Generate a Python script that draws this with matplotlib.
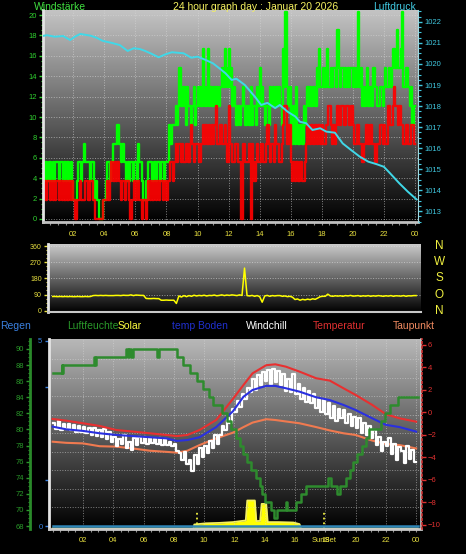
import numpy as np
import matplotlib
matplotlib.use('Agg')
import matplotlib.pyplot as plt
from matplotlib.colors import LinearSegmentedColormap
from matplotlib.ticker import MultipleLocator

plt.rcParams['font.family'] = ['Liberation Sans', 'DejaVu Sans']

# ---------------- data ----------------
# wind, 5 minute values, anemometer steps of 1.85 km/h (level numbers), one row per hour
gust_lv = [3, 2, 3, 3, 2, 3, 3, 2, 3, 2, 3, 3,
           3, 2, 3, 3, 2, 3, 2, 3, 3, 2, 3, 2,
           1, 1, 1, 2, 3, 3, 2, 3, 4, 3, 3, 3,
           3, 2, 3, 3, 1, 2, 1, 1, 0, 0, 0, 1,
           1, 2, 3, 3, 2, 3, 3, 4, 4, 4, 5, 4,
           4, 3, 4, 3, 3, 2, 3, 2, 3, 3, 2, 3,
           3, 2, 4, 3, 3, 2, 1, 1, 2, 1, 3, 3,
           3, 2, 3, 3, 2, 3, 3, 2, 3, 3, 2, 3,
           3, 3, 5, 4, 5, 5, 5, 6, 5, 6, 8, 6,
           6, 7, 6, 5, 7, 6, 6, 5, 6, 7, 5, 6,
           7, 6, 7, 6, 9, 7, 6, 7, 9, 6, 7, 6,
           6, 7, 6, 7, 6, 7, 7, 8, 7, 9, 8, 7,
           9, 7, 8, 6, 7, 6, 5, 6, 6, 5, 6, 7,
           6, 5, 6, 6, 5, 7, 5, 6, 6, 5, 7, 6,
           8, 6, 7, 6, 5, 6, 6, 5, 7, 6, 7, 6,
           6, 7, 6, 7, 6, 5, 9, 7, 11, 7, 6, 7,
           5, 4, 6, 4, 7, 5, 4, 5, 5, 4, 6, 5,
           6, 7, 6, 7, 6, 7, 7, 6, 8, 7, 9, 7,
           7, 8, 7, 8, 9, 7, 7, 8, 7, 8, 8, 7,
           10, 8, 7, 8, 8, 7, 8, 7, 8, 7, 8, 8,
           7, 8, 7, 8, 11, 7, 8, 6, 7, 6, 7, 8,
           6, 7, 7, 6, 8, 7, 7, 6, 6, 7, 7, 6,
           7, 8, 7, 7, 8, 7, 8, 9, 9, 8, 10, 8,
           8, 9, 11, 7, 7, 8, 8, 7, 6, 7, 5, 6]
mean_lv = [2, 1, 2, 1, 2, 2, 1, 2, 1, 2, 1, 2,
           2, 1, 2, 1, 2, 1, 2, 1, 1, 2, 1, 2,
           1, 0, 0, 1, 1, 2, 1, 1, 1, 2, 2, 1,
           1, 2, 2, 1, 1, 0, 0, 0, 0, 0, 0, 1,
           1, 1, 2, 1, 2, 3, 3, 2, 3, 2, 3, 2,
           2, 1, 2, 2, 1, 2, 2, 1, 0, 1, 1, 2,
           1, 2, 2, 1, 1, 0, 1, 1, 0, 1, 2, 1,
           2, 1, 2, 2, 1, 2, 1, 2, 2, 1, 2, 2,
           1, 2, 2, 3, 3, 2, 3, 4, 3, 4, 4, 3,
           4, 3, 3, 4, 4, 3, 4, 5, 4, 3, 4, 4,
           4, 3, 3, 4, 5, 4, 5, 4, 4, 5, 4, 5,
           4, 5, 6, 4, 4, 5, 5, 4, 4, 5, 4, 3,
           6, 4, 4, 3, 3, 4, 4, 3, 3, 3, 0, 4,
           4, 3, 3, 3, 4, 0, 4, 3, 2, 3, 4, 3,
           3, 4, 4, 3, 3, 4, 5, 4, 3, 4, 4, 3,
           5, 4, 4, 3, 3, 4, 5, 6, 6, 4, 4, 5,
           3, 2, 3, 2, 3, 3, 2, 3, 3, 2, 2, 3,
           4, 5, 4, 4, 5, 4, 4, 5, 4, 5, 5, 4,
           5, 4, 4, 5, 5, 6, 6, 5, 4, 5, 4, 5,
           6, 5, 5, 6, 6, 5, 5, 6, 6, 5, 5, 6,
           5, 4, 4, 5, 5, 4, 4, 3, 3, 4, 5, 5,
           4, 5, 5, 4, 4, 3, 3, 4, 4, 5, 5, 4,
           5, 4, 4, 6, 6, 5, 5, 6, 7, 6, 6, 5,
           6, 5, 5, 4, 4, 5, 5, 4, 4, 5, 5, 4]
kmh_step = 1.85

press_t = [0, 0.3, 0.8, 1.35, 1.8, 2.1, 2.45, 3.1, 3.5, 3.9, 4.5, 5.0, 5.5, 5.9, 6.3,
           6.6, 7.0, 7.5, 7.9, 8.35, 9.1, 9.6, 10.0, 10.5, 11.0, 11.4, 11.8, 12.2,
           12.5, 13.05, 13.4, 13.7, 14.1, 14.5, 15.0, 15.3, 15.8, 16.3, 16.6, 17.0,
           17.4, 17.9, 18.3, 18.85, 19.35, 19.9, 20.45, 21.0, 21.5, 22.0, 22.4, 23.0,
           23.55, 24.1]
press = [1021.33, 1021.37, 1021.3, 1021.33, 1021.14, 1021.3, 1021.43, 1021.35,
         1021.25, 1021.1, 1021.0, 1020.9, 1020.62, 1020.75, 1020.71, 1020.63,
         1020.5, 1020.32, 1020.45, 1020.56, 1020.51, 1020.3, 1020.35, 1020.2,
         1020.03, 1019.8, 1019.56, 1019.24, 1019.3, 1019.0, 1018.7, 1018.44,
         1018.05, 1018.15, 1017.9, 1018.05, 1017.73, 1017.5, 1017.25, 1017.18,
         1016.86, 1016.94, 1016.78, 1016.73, 1016.22, 1015.9, 1015.59, 1015.35,
         1015.24, 1015.11, 1014.8, 1014.32, 1013.92, 1013.56]

# wind direction, 10 minute values (deg)
wdir = [79, 79, 78, 79, 78, 79,  78, 79, 78, 78, 79, 78,  78, 79, 78, 79, 84, 85,
        84, 85, 84, 85, 84, 84,  84, 85, 85, 84, 86, 85,  85, 88, 84, 87, 86, 85,
        85, 68, 67, 67, 68, 67,  67, 58, 58, 59, 58, 58,  58, 40, 82, 76, 84, 78,
        84, 80, 86, 82, 85, 83,  86, 82, 85, 84, 87, 83,  85, 88, 84, 87, 85, 88,
        86, 84, 88, 85, 238, 84,  82, 85, 80, 84, 78, 47,  82, 85, 80, 84, 82, 84,
        84, 80, 82, 78, 80, 75,  62, 65, 58, 63, 60, 64,  61, 66, 63, 70, 78, 80,
        80, 92, 82, 80, 83, 81,  83, 80, 84, 82, 85, 81,  82, 84, 80, 83, 81, 84,
        80, 83, 81, 84, 82, 80,  83, 81, 84, 80, 83, 82,  81, 84, 80, 83, 82, 84]

# temperatures (deg C)
temp_t = [0, 0.9, 2.0, 3.1, 4.2, 5.3, 6.4, 7.5, 8.2, 8.9, 9.7, 10.8, 11.9, 12.6, 13.2,
          14.1, 14.7, 15.4, 16.3, 17.4, 18.3, 19.2, 20.0, 21.1, 22.0, 22.9, 24.0]
temp = [-0.58, -0.73, -0.96, -1.2, -1.56, -1.7, -1.85, -2.0, -2.1, -2.0, -1.56, -0.67,
        1.2, 2.44, 3.48, 4.2, 4.28, 4.07, 3.63, 3.04, 2.83, 2.15, 1.56, 0.67, -0.16,
        -0.52, -0.82]
soil = [-1.26, -1.5, -1.64, -1.85, -2.0, -2.1, -2.2, -2.3, -2.53, -2.45, -2.2, -1.3,
        0.1, 1.4, 2.0, 2.36, 2.36, 2.15, 1.85, 1.35, 1.1, 0.67, 0.22, -0.52, -1.1,
        -1.3, -1.7]
dew = [-2.6, -2.7, -2.75, -3.0, -3.04, -3.2, -3.4, -3.5, -3.57, -3.4, -2.9, -2.3,
       -1.8, -1.3, -0.9, -0.6, -0.67, -0.8, -0.96, -1.3, -1.6, -1.85, -2.0, -2.5,
       -2.8, -2.9, -3.2]
chill = [-0.9, -1.5, -0.8, -1.6, -1.0, -1.5,  -1.0, -1.6, -1.1, -1.7, -1.2, -1.7,
         -1.3, -1.8, -1.4, -2.0, -1.4, -2.1,  -1.6, -2.2, -1.5, -2.4, -1.7, -2.6,
         -2.2, -3.0, -2.4, -2.8, -2.0, -3.2,  -2.6, -3.3, -2.3, -2.9, -2.2, -2.7,
         -2.2, -2.8, -2.3, -2.7, -2.4, -2.8,  -2.3, -2.9, -2.4, -2.9, -2.6, -3.0,
         -2.8, -3.4, -3.6, -4.2, -3.5, -4.6,  -4.2, -5.2, -3.8, -4.6, -3.2, -4.0,
         -3.0, -3.6, -2.5, -3.2, -2.0, -2.8,  -2.0, -1.2, -1.6, -0.5, -0.9, 0.3,
         0.0, 1.0, 0.5, 1.6, 1.2, 2.2,  1.8, 3.0, 2.0, 3.3, 2.4, 3.6,
         2.8, 3.8, 2.5, 3.9, 2.7, 3.7,  2.4, 3.4, 1.9, 3.0, 1.8, 3.4,
         1.6, 2.5, 1.2, 2.2, 0.9, 1.9,  0.8, 1.6, 0.4, 1.2, 0.0, 1.1,
         -0.1, 0.8, -0.5, 0.6, -0.8, 0.3,  -0.5, 0.2, -0.9, -0.1, -1.2, -0.4,
         -1.4, -0.5, -1.8, -0.9, -2.0, -1.2,  -2.3, -1.6, -2.9, -2.2, -3.4, -2.6,
         -3.0, -2.3, -3.7, -2.8, -4.2, -3.1,  -3.4, -4.5, -3.0, -4.1, -3.3, -4.4]

# humidity (%), change points
hum_t = [0.0, 0.6, 0.65, 0.7, 2.75, 2.8, 2.85, 4.85, 5.0, 5.05, 5.2, 5.3, 6.9, 7.0,
         8.2, 8.6, 9.1, 9.5, 9.9, 10.3, 10.6, 11.2, 11.5, 11.8, 12.1, 12.4, 12.6,
         12.8, 13.1, 13.4, 13.7, 13.85, 14.0, 14.4, 14.6, 14.8, 15.4, 15.5, 16.1,
         16.4, 16.7, 18.2, 18.4, 18.8, 19.0, 19.4, 19.6, 19.8, 20.1, 20.4, 20.7,
         20.9, 21.7, 21.95, 22.3, 22.8, 24.1]
hum = [87, 88, 87, 88, 89, 88, 89, 90, 89, 90, 89, 90, 89, 90, 89, 88, 87, 86, 85,
       84, 83, 82, 81, 80, 79, 78, 77, 76, 75, 74, 73, 72, 71, 70, 69, 70, 71, 70,
       71, 72, 73, 74, 73, 72, 73, 74, 75, 76, 77, 78, 79, 80, 81, 82, 83, 84, 84]

# solar radiation (W/m2)
sol_t = [0, 9.3, 9.35, 10.1, 11.0, 11.9, 12.4, 12.75, 12.85, 13.35, 13.45, 13.7,
         13.8, 14.1, 14.2, 14.9, 15.9, 16.3, 16.4, 24.1]
solar = [0, 0, 20, 26, 28, 32, 37, 40, 140, 140, 37, 38, 123, 123, 32, 32, 30, 22, 0, 0]

rain_t = [0, 24.1]
rain = [0, 0]

sunrise, sunset = 9.5, 17.9
hours = list(range(2, 25, 2))
hour_lbl = ['%02d' % (h % 24) for h in hours]

# ---------------- figure ----------------
fig = plt.figure(figsize=(4.66, 5.54), dpi=100, facecolor='black')

def box(l, t, r, b):
    return [l / 466, 1 - b / 554, (r - l) / 466, (b - t) / 554]

def shade(rect, top):
    bg = fig.add_axes(rect, zorder=-5)
    g = np.linspace(0, 1, 256).reshape(-1, 1)
    cm = LinearSegmentedColormap.from_list('bg', ['#000000', top])
    bg.imshow(g, cmap=cm, aspect='auto', origin='lower', extent=[0, 1, 0, 1])
    bg.set_axis_off()

def spines_off(ax, keep=()):
    for k, s in ax.spines.items():
        s.set_visible(k in keep)

YEL = '#e8e040'
t5 = np.arange(289) / 12.0
t10 = np.arange(145) / 6.0

# ---- top: wind + pressure ----
r1 = box(43, 10, 418, 222)
shade(r1, '#c4c4c4')
ax1 = fig.add_axes(r1)
ax1.patch.set_visible(False)
gust = np.append(gust_lv, gust_lv[-1]) * kmh_step
mean = np.append(mean_lv, mean_lv[-1]) * kmh_step
ax1.step(t5, gust, where='post', color='#00ff00', lw=1.7)
ax1.step(t5, mean, where='post', color='#ff0000', lw=1.7, alpha=0.92)
ax1.set_xlim(0.05, 24.2)
ax1.set_ylim(-0.3, 20.5)
ax1.set_xticks(hours)
ax1.set_xticklabels(hour_lbl)
ax1.xaxis.set_minor_locator(MultipleLocator(0.5))
ax1.yaxis.set_major_locator(MultipleLocator(2))
ax1.yaxis.set_minor_locator(MultipleLocator(0.5))
ax1.tick_params(axis='x', which='both', colors='#909090', length=2.2, width=0.8,
                labelcolor=YEL, labelsize=5.5, pad=4)
ax1.tick_params(axis='y', which='major', colors='#30d030', length=3, width=1,
                labelsize=5.5, pad=1.5)
ax1.tick_params(axis='y', which='minor', colors='#30d030', length=1.8, width=0.8)
ax1.grid(True, color='#d8d8d8', ls=':', lw=0.7, alpha=0.6)
spines_off(ax1, ('left', 'bottom'))
ax1.spines['left'].set_color('#e4e4e4')
ax1.spines['left'].set_linewidth(2)
ax1.spines['bottom'].set_color('#c0c0c0')
ax1.spines['bottom'].set_linewidth(2)

ax1p = ax1.twinx()
ax1p.plot(press_t, press, color='#40d8e8', lw=1.4)
ax1p.set_ylim(1012.48, 1022.57)
ax1p.yaxis.set_major_locator(MultipleLocator(1))
ax1p.yaxis.set_minor_locator(MultipleLocator(0.25))
ax1p.tick_params(axis='y', which='major', colors='#40c8e0', length=3, width=1,
                 labelsize=5.5, pad=2)
ax1p.tick_params(axis='y', which='minor', colors='#40c8e0', length=1.8, width=0.8)
spines_off(ax1p, ('right',))
ax1p.spines['right'].set_color('#a0d8e0')

# ---- middle: wind direction ----
r2 = box(48, 244, 421, 312)
shade(r2, '#cacaca')
ax2 = fig.add_axes(r2)
ax2.patch.set_visible(False)
ax2.plot(t10, np.append(wdir, wdir[-1]), color='#ffff00', lw=1.1)
ax2.set_xlim(-0.31, 24.32)
ax2.set_ylim(-8, 373)
ax2.set_xticks([])
ax2.set_yticks([0, 90, 180, 270, 360])
ax2.yaxis.set_minor_locator(MultipleLocator(22.5))
ax2.tick_params(axis='y', which='major', colors='#e8e040', length=3, width=1,
                labelsize=5, pad=1.5)
ax2.tick_params(axis='y', which='minor', colors='#e8e040', length=1.8, width=0.8)
ax2.grid(True, axis='y', color='#e0e0e0', ls=':', lw=0.7, alpha=0.6)
spines_off(ax2, ('left', 'bottom'))
ax2.spines['left'].set_color('#e4e4e4')
ax2.spines['left'].set_linewidth(2)
ax2.spines['bottom'].set_color('#c8c8c8')
ax2.spines['bottom'].set_linewidth(1.5)
for v, s in zip([360, 270, 180, 90, 0], ['N', 'W', 'S', 'O', 'N']):
    ax2.text(1.049, v, s, transform=ax2.get_yaxis_transform(), color='#f0f040',
             fontsize=8.5, ha='center', va='center')

# ---- bottom: temperatures, humidity, solar, rain ----
r3 = box(49, 339, 421, 529)
shade(r3, '#b8b8b8')
ax3 = fig.add_axes(r3)
ax3.patch.set_visible(False)
ax3.plot(rain_t, rain, color='#2f86b8', lw=1.8)
ax3.set_xlim(-0.24, 24.32)
ax3.set_ylim(-0.081, 5.05)
ax3.set_yticks([0, 1.25, 3.75, 5])
ax3.set_yticklabels(['0', '', '', '5'])
ax3.yaxis.set_minor_locator(MultipleLocator(0.5))
ax3.set_xticks(hours)
ax3.set_xticklabels(hour_lbl)
ax3.xaxis.set_minor_locator(MultipleLocator(0.5))
ax3.tick_params(axis='x', which='both', colors='#909090', length=2.2, width=0.8,
                labelcolor=YEL, labelsize=5.5, pad=3.4)
ax3.tick_params(axis='y', which='major', colors='#3a80e0', length=3.2, width=1,
                labelsize=5.5, pad=1.5)
ax3.tick_params(axis='y', which='minor', length=0)
ax3.grid(True, which='major', axis='x', color='#d8d8d8', ls=':', lw=0.7, alpha=0.55)
ax3.grid(True, which='minor', axis='y', color='#d8d8d8', ls=':', lw=0.7, alpha=0.55)
spines_off(ax3, ('left', 'bottom', 'right'))
ax3.spines['left'].set_color('#e4e4e4')
ax3.spines['left'].set_linewidth(2)
ax3.spines['bottom'].set_color('#c8c8c8')
ax3.spines['bottom'].set_linewidth(2)
ax3.spines['right'].set_color('#c8c8c8')
ax3.spines['right'].set_linewidth(1.2)
ax3.text(sunset, -0.062, 'SunSet', transform=ax3.get_xaxis_transform(), color=YEL,
         fontsize=5.5, ha='center', va='center')

ax3s = ax3.twinx()
ax3s.set_zorder(-1)
ax3s.fill_between(sol_t, solar, 0, color='#ffff00', lw=0)
ax3s.plot(sol_t, solar, color='#f4f060', lw=1.3)
ax3s.vlines([sunrise, sunset], 0, 90, colors='#f0f040', linestyles=':', lw=1.3)
ax3s.set_ylim(-2.5, 947.5)
ax3s.set_yticks([])
spines_off(ax3s)

ax3t = ax3.twinx()
ax3t.plot(temp_t, dew, color='#f07a50', lw=1.5)
ax3t.step(t10, np.append(chill, chill[-1]), where='post', color='white', lw=1.6)
ax3t.plot(temp_t, soil, color='#2a30e0', lw=1.5)
ax3t.plot(temp_t, temp, color='#e83030', lw=1.5)
ax3t.set_ylim(-10.36, 6.53)
ax3t.set_yticks(range(-10, 7, 2))
ax3t.tick_params(axis='y', colors='#e03030', length=3, width=1, labelsize=5.5, pad=1)
spines_off(ax3t, ('right',))
ax3t.spines['right'].set_color('#d03030')
ax3t.spines['right'].set_linestyle(':')
ax3t.spines['right'].set_linewidth(1.2)
ax3t.spines['right'].set_position(('outward', 1))

ax3h = ax3.twinx()
ax3h.step(hum_t, hum, where='post', color='#2e8b2e', lw=1.8)
ax3h.set_ylim(67.63, 91.24)
ax3h.yaxis.tick_left()
ax3h.set_yticks(range(68, 91, 2))
ax3h.yaxis.set_minor_locator(MultipleLocator(0.5))
ax3h.tick_params(axis='y', which='major', colors='#2a9a2a', length=3, width=1,
                 labelsize=5.5, pad=1)
ax3h.tick_params(axis='y', which='minor', colors='#2a9a2a', length=1.8, width=0.8)
spines_off(ax3h, ('left',))
ax3h.spines['left'].set_position(('outward', 13.7))
ax3h.spines['left'].set_color('#2a8a2a')
ax3h.spines['left'].set_linewidth(2)

# ---- headings ----
def ftext(x, y, s, c, ha='left'):
    fig.text(x / 466, 1 - y / 554, s, color=c, fontsize=7.5, ha=ha, va='center')

ftext(34, 7, 'Windstärke', '#40e040')
ftext(256, 7, '24 hour graph day : Januar 20 2026', '#f4f060', ha='center')
ftext(416, 7, 'Luftdruck', '#40c8e0', ha='right')

legend = [(0, 'Regen', '#3a80e0'), (67, 'Luftfeuchte', '#2a9a2a'),
          (118, 'Solar', '#ffff40'), (172, 'temp Boden', '#2030d0'),
          (246, 'Windchill', '#ffffff'), (313, 'Temperatur', '#e03030'),
          (393, 'Taupunkt', '#f08a60')]
for x, s, c in legend:
    ftext(x, 326, s, c)

fig.savefig('out.png', dpi=100, facecolor='black')
